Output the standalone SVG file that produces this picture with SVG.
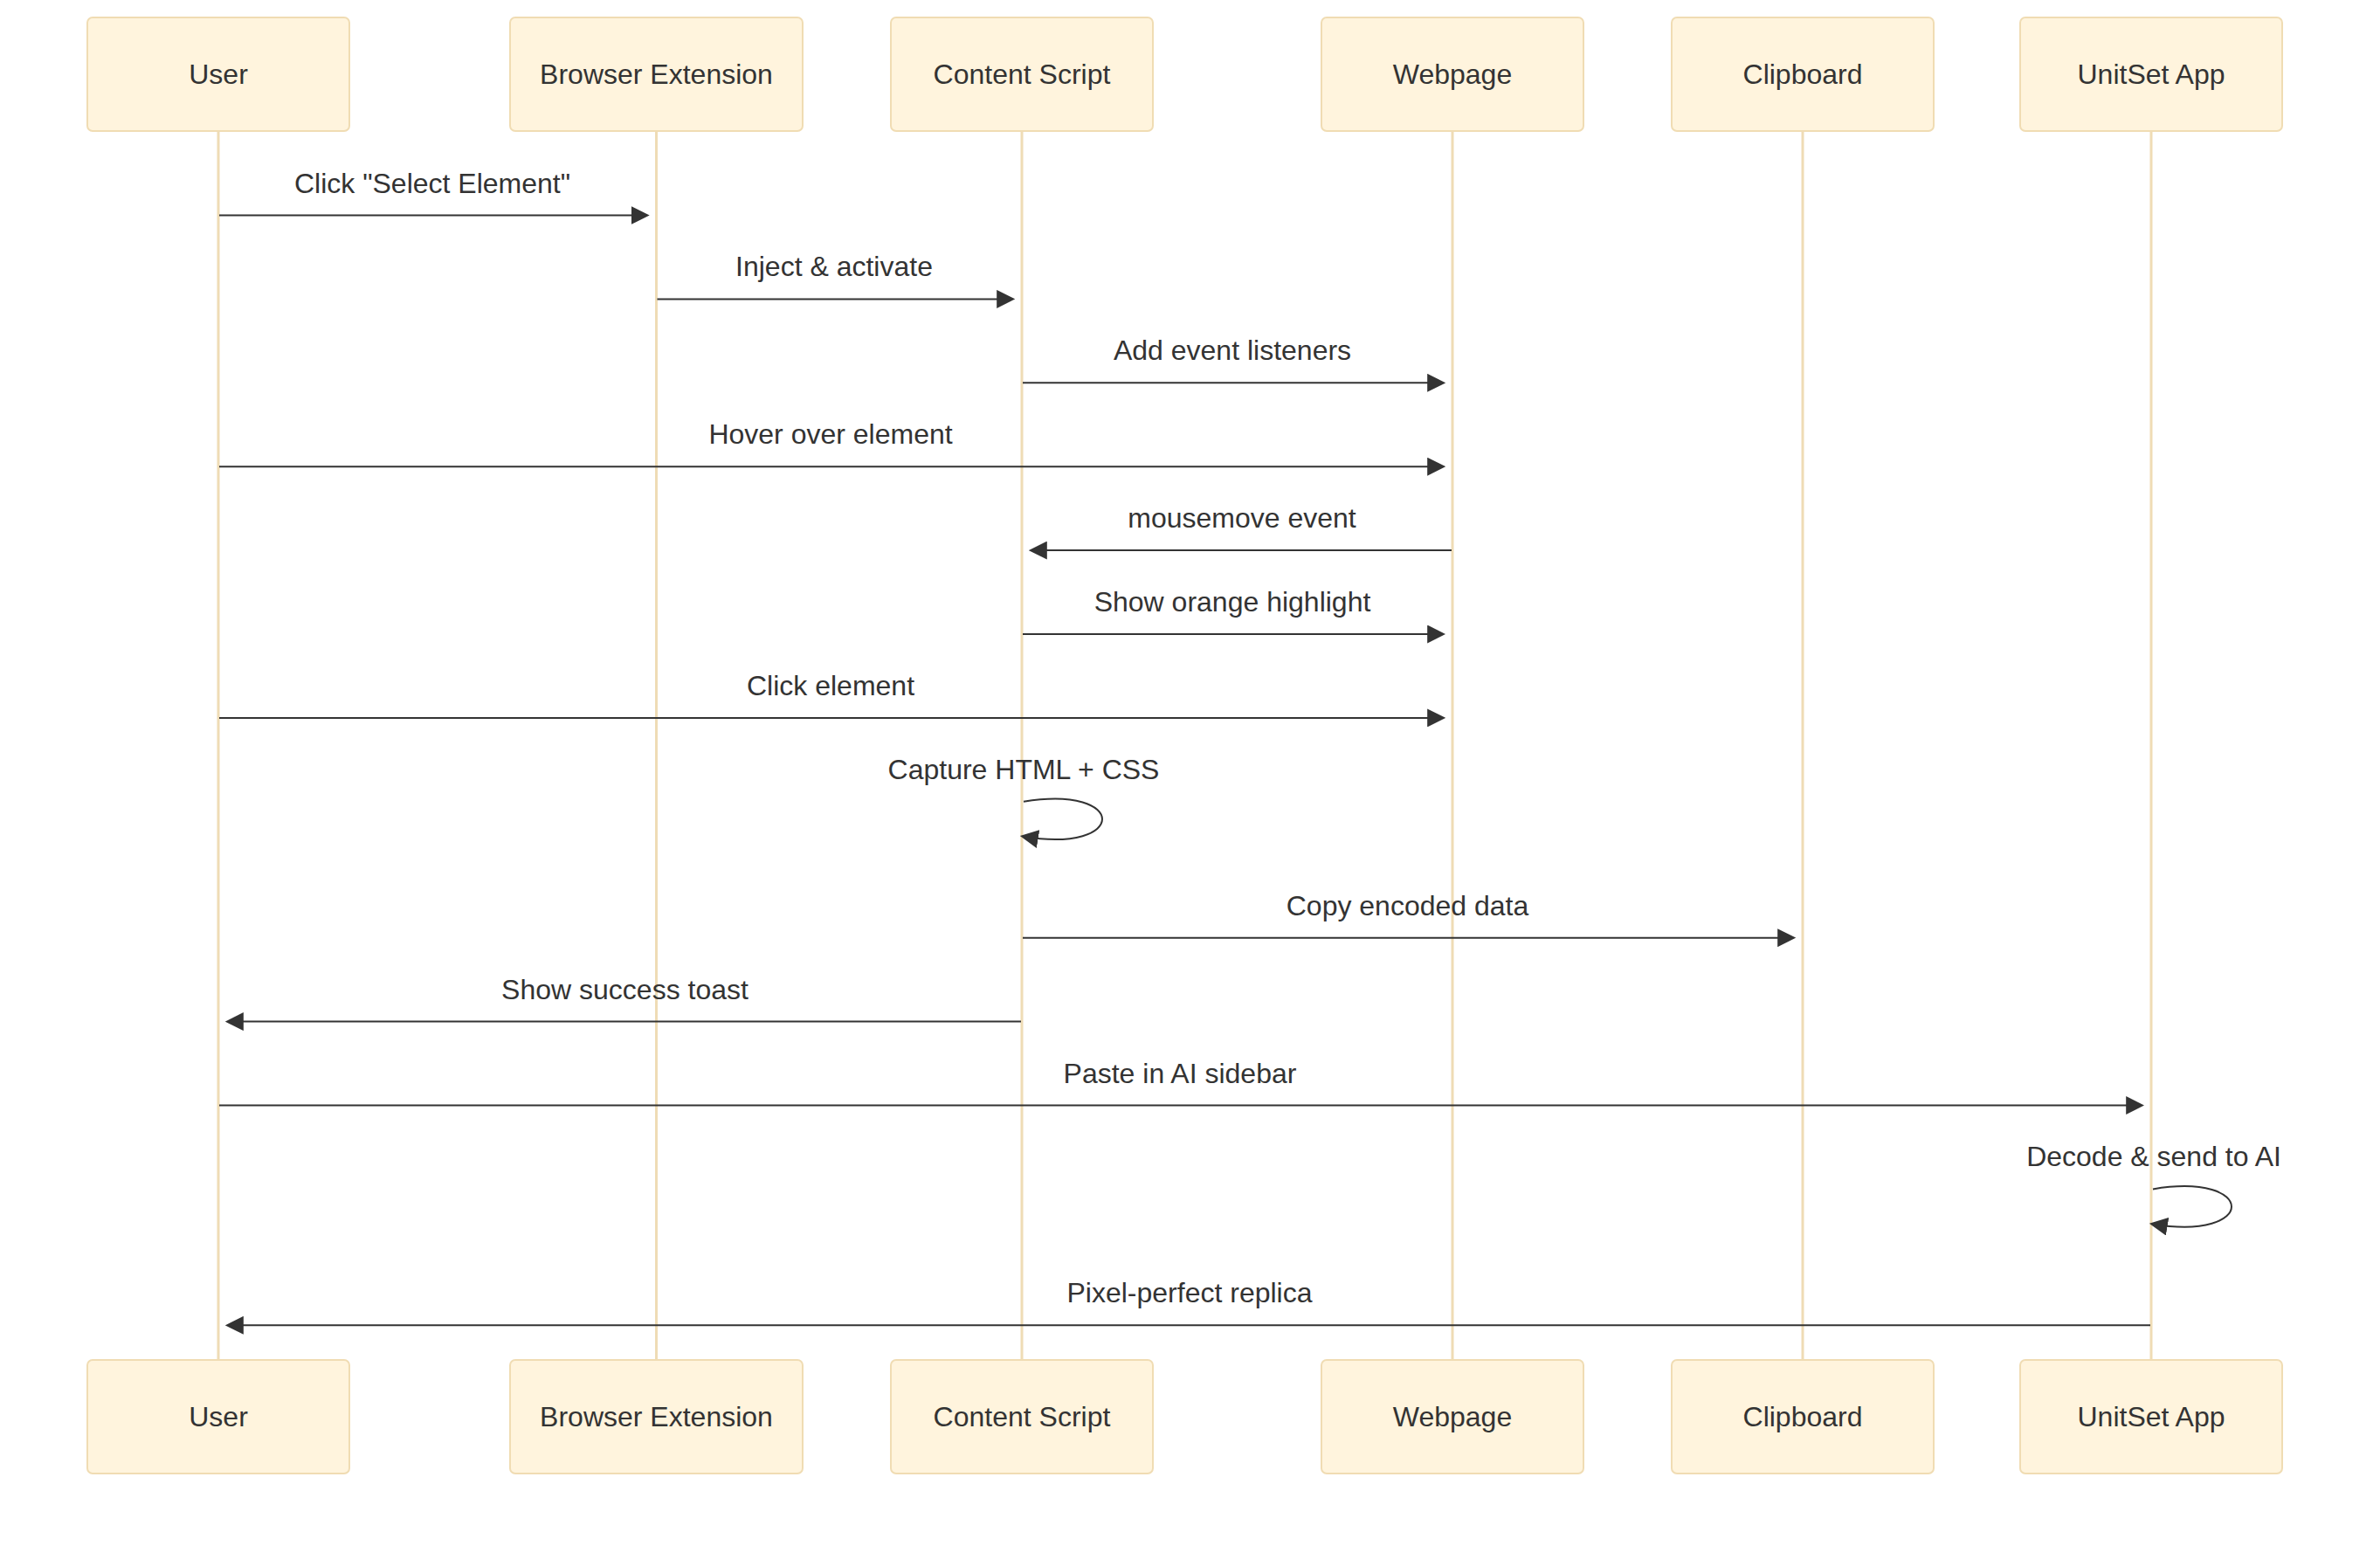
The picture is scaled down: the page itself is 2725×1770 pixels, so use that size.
<svg xmlns="http://www.w3.org/2000/svg" width="2725" height="1770" viewBox="0 0 2725 1770">
<style>
.actor{fill:#fff4dd;stroke:#f0dcb3;stroke-width:2}
.atext{font-family:"Liberation Sans",Arial,Helvetica,sans-serif;font-size:32px;fill:#333;text-anchor:middle;dominant-baseline:central}
.life{stroke:#efdcb5;stroke-width:3}
.msg{stroke:#333;stroke-width:2;fill:none}
.mtext{font-family:"Liberation Sans",Arial,Helvetica,sans-serif;font-size:32px;fill:#333;text-anchor:middle}
</style>
<defs>
<marker id="arrow" viewBox="0 0 10 10" refX="8" refY="5" markerWidth="21" markerHeight="21" markerUnits="userSpaceOnUse" orient="auto">
<path d="M 0 0 L 10 5 L 0 10 z" fill="#333"/>
</marker>
</defs>
<rect width="2725" height="1770" fill="#ffffff"/>
<g id="lifelines">
<line class="life" x1="250" y1="150" x2="250" y2="1557"/>
<line class="life" x1="751.5" y1="150" x2="751.5" y2="1557"/>
<line class="life" x1="1170" y1="150" x2="1170" y2="1557"/>
<line class="life" x1="1663" y1="150" x2="1663" y2="1557"/>
<line class="life" x1="2064" y1="150" x2="2064" y2="1557"/>
<line class="life" x1="2463" y1="150" x2="2463" y2="1557"/>
</g>
<g id="actor-user">
<rect class="actor" x="100" y="20" width="300" height="130" rx="6"/>
<text class="atext" x="250" y="85">User</text>
<rect class="actor" x="100" y="1557" width="300" height="130" rx="6"/>
<text class="atext" x="250" y="1622">User</text>
</g>
<g id="actor-browser-extension">
<rect class="actor" x="584" y="20" width="335" height="130" rx="6"/>
<text class="atext" x="751.5" y="85">Browser Extension</text>
<rect class="actor" x="584" y="1557" width="335" height="130" rx="6"/>
<text class="atext" x="751.5" y="1622">Browser Extension</text>
</g>
<g id="actor-content-script">
<rect class="actor" x="1020" y="20" width="300" height="130" rx="6"/>
<text class="atext" x="1170" y="85">Content Script</text>
<rect class="actor" x="1020" y="1557" width="300" height="130" rx="6"/>
<text class="atext" x="1170" y="1622">Content Script</text>
</g>
<g id="actor-webpage">
<rect class="actor" x="1513" y="20" width="300" height="130" rx="6"/>
<text class="atext" x="1663" y="85">Webpage</text>
<rect class="actor" x="1513" y="1557" width="300" height="130" rx="6"/>
<text class="atext" x="1663" y="1622">Webpage</text>
</g>
<g id="actor-clipboard">
<rect class="actor" x="1914" y="20" width="300" height="130" rx="6"/>
<text class="atext" x="2064" y="85">Clipboard</text>
<rect class="actor" x="1914" y="1557" width="300" height="130" rx="6"/>
<text class="atext" x="2064" y="1622">Clipboard</text>
</g>
<g id="actor-unitset-app">
<rect class="actor" x="2313" y="20" width="300" height="130" rx="6"/>
<text class="atext" x="2463" y="85">UnitSet App</text>
<rect class="actor" x="2313" y="1557" width="300" height="130" rx="6"/>
<text class="atext" x="2463" y="1622">UnitSet App</text>
</g>
<g id="connectors">
<line class="msg" x1="251" y1="246.5" x2="739.5" y2="246.5" marker-end="url(#arrow)"/>
<text class="mtext" x="495" y="220.5">Click "Select Element"</text>

<line class="msg" x1="752.5" y1="342.4" x2="1158" y2="342.4" marker-end="url(#arrow)"/>
<text class="mtext" x="955" y="316.4">Inject &amp; activate</text>

<line class="msg" x1="1171" y1="438.3" x2="1651" y2="438.3" marker-end="url(#arrow)"/>
<text class="mtext" x="1411" y="412.3">Add event listeners</text>

<line class="msg" x1="251" y1="534.2" x2="1651" y2="534.2" marker-end="url(#arrow)"/>
<text class="mtext" x="951" y="508.2">Hover over element</text>

<line class="msg" x1="1662" y1="630.1" x2="1182" y2="630.1" marker-end="url(#arrow)"/>
<text class="mtext" x="1422" y="604.1">mousemove event</text>

<line class="msg" x1="1171" y1="726" x2="1651" y2="726" marker-end="url(#arrow)"/>
<text class="mtext" x="1411" y="700">Show orange highlight</text>

<line class="msg" x1="251" y1="821.9" x2="1651" y2="821.9" marker-end="url(#arrow)"/>
<text class="mtext" x="951" y="795.9">Click element</text>

<path class="msg" d="M 1172 917.8 C 1292 897.8 1292 977.8 1172 957.8" marker-end="url(#arrow)"/>
<text class="mtext" x="1172" y="891.8">Capture HTML + CSS</text>

<line class="msg" x1="1171" y1="1073.7" x2="2052" y2="1073.7" marker-end="url(#arrow)"/>
<text class="mtext" x="1611.5" y="1047.7">Copy encoded data</text>

<line class="msg" x1="1169" y1="1169.6" x2="262" y2="1169.6" marker-end="url(#arrow)"/>
<text class="mtext" x="715.5" y="1143.6">Show success toast</text>

<line class="msg" x1="251" y1="1265.5" x2="2451" y2="1265.5" marker-end="url(#arrow)"/>
<text class="mtext" x="1351" y="1239.5">Paste in AI sidebar</text>

<path class="msg" d="M 2465 1361.4 C 2585 1341.4 2585 1421.4 2465 1401.4" marker-end="url(#arrow)"/>
<text class="mtext" x="2466" y="1335.4">Decode &amp; send to AI</text>

<line class="msg" x1="2462" y1="1517.3" x2="262" y2="1517.3" marker-end="url(#arrow)"/>
<text class="mtext" x="1362" y="1491.3">Pixel-perfect replica</text>
</g>
</svg>
